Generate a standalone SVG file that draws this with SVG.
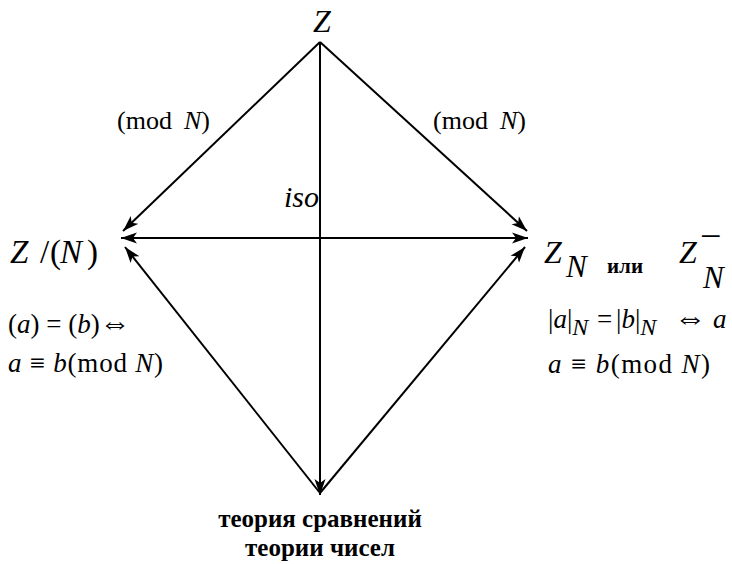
<svg xmlns="http://www.w3.org/2000/svg" width="732" height="564" viewBox="0 0 732 564">
<style>
.ln{stroke:#000;stroke-width:2;fill:none}
text{font-family:'Liberation Serif','Times New Roman','DejaVu Serif',serif;fill:#000}
.i{font-style:italic}
.n{font-style:normal}
.b{font-weight:bold}
</style>
<defs>
<marker id="ah" markerUnits="userSpaceOnUse" markerWidth="18" markerHeight="12" refX="16" refY="6" orient="auto-start-reverse">
<path d="M0,0.5 L16,6 L0,11.5 L4,6 z" fill="#000"/>
</marker>
</defs>
<rect width="732" height="564" fill="#fff"/>
<g id="connectors">
<line class="ln" x1="320" y1="42" x2="123" y2="231" marker-end="url(#ah)"/>
<line class="ln" x1="320" y1="42" x2="527" y2="231" marker-end="url(#ah)"/>
<line class="ln" x1="320" y1="42" x2="320" y2="495" marker-end="url(#ah)"/>
<line class="ln" x1="121" y1="238" x2="528" y2="238" marker-start="url(#ah)" marker-end="url(#ah)"/>
<line class="ln" x1="320" y1="493" x2="125" y2="247" marker-end="url(#ah)"/>
<line class="ln" x1="320" y1="493" x2="525" y2="247" marker-end="url(#ah)"/>
</g>
<g id="label-mod-left"><text x="117" y="129" font-size="26">(mod <tspan class="i" x="184">N</tspan>)</text></g>
<g id="label-mod-right"><text x="433" y="129" font-size="26">(mod <tspan class="i" x="500">N</tspan>)</text></g>
<g id="label-iso"><text class="i" x="284" y="207" font-size="30">iso</text></g>
<g id="node-Z"><text class="i" x="322" y="32" font-size="32" text-anchor="middle">Z</text></g>
<g id="node-ZN-left">
<text class="i" x="10" y="263" font-size="33">Z<tspan class="n" x="40">/</tspan><tspan class="n" x="50">(</tspan><tspan x="60">N</tspan><tspan class="n" x="87">)</tspan></text>
<text x="8" y="333" font-size="27">(<tspan class="i">a</tspan>) = (<tspan class="i">b</tspan>)<tspan font-size="31">⇔</tspan></text>
<text x="8" y="372" font-size="27" textLength="155" lengthAdjust="spacing"><tspan class="i">a</tspan> ≡ <tspan class="i">b</tspan>(mod <tspan class="i">N</tspan>)</text>
</g>
<g id="node-ZN-right">
<text class="i" x="544" y="263" font-size="32">Z</text>
<text class="i" x="566" y="277" font-size="31">N</text>
<text class="b" x="607" y="273" font-size="21">или</text>
<text class="i" x="679" y="263" font-size="32">Z</text>
<text x="700" y="249" font-size="38">−</text>
<text class="i" x="703" y="288" font-size="31">N</text>
<text x="548" y="328" font-size="27">|<tspan class="i">a</tspan>|<tspan class="i" font-size="24" dy="7">N</tspan><tspan dy="-7" x="597">=</tspan><tspan x="616">|</tspan><tspan class="i">b</tspan>|<tspan class="i" font-size="24" dy="7">N</tspan><tspan dy="-7" x="674" font-size="32">⇔</tspan><tspan class="i" x="713">a</tspan></text>
<text x="548" y="373" font-size="27" textLength="162" lengthAdjust="spacing"><tspan class="i">a</tspan> ≡ <tspan class="i">b</tspan>(mod <tspan class="i">N</tspan>)</text>
</g>
<g id="node-bottom">
<text class="b" x="320" y="527" font-size="25" text-anchor="middle">теория сравнений</text>
<text class="b" x="320" y="556" font-size="25" text-anchor="middle">теории чисел</text>
</g>
</svg>
